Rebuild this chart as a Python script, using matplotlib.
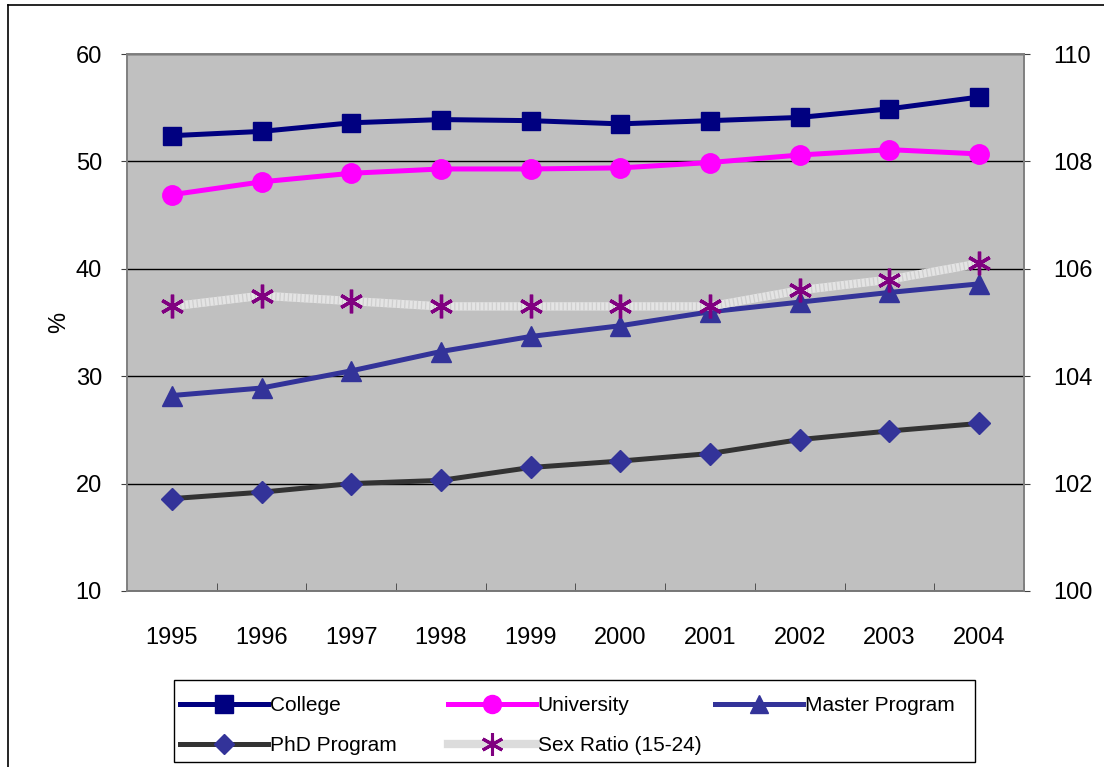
import numpy as np
import matplotlib
matplotlib.use('Agg')
import matplotlib.pyplot as plt
from matplotlib.lines import Line2D
from matplotlib.patches import Rectangle

plt.rcParams['font.family'] = ['Liberation Sans', 'DejaVu Sans']

years = ['1995', '1996', '1997', '1998', '1999', '2000', '2001', '2002', '2003', '2004']
college = [52.4, 52.8, 53.6, 53.9, 53.8, 53.5, 53.8, 54.1, 54.9, 56.0]
university = [46.9, 48.1, 48.9, 49.3, 49.3, 49.4, 49.9, 50.6, 51.1, 50.7]
master = [28.2, 28.9, 30.5, 32.3, 33.7, 34.7, 36.0, 36.9, 37.8, 38.6]
phd = [18.6, 19.2, 20.0, 20.3, 21.5, 22.1, 22.8, 24.1, 24.9, 25.6]
sex_ratio = [105.3, 105.5, 105.4, 105.3, 105.3, 105.3, 105.3, 105.6, 105.8, 106.1]

W, H = 1104, 767
fig = plt.figure(figsize=(W / 100, H / 100), dpi=100)
ax = fig.add_axes([0.115, 0.2295, 0.8125, 0.700])
ax2 = ax.twinx()

x = np.arange(len(years))
asterisk = (6, 2, 0)

ax.set_facecolor('#C0C0C0')
ax.set_xlim(-0.5, 9.5)
ax.set_ylim(10, 60)
ax.set_yticks([10, 20, 30, 40, 50, 60])
ax.yaxis.grid(True, color='black', linewidth=1)
ax.set_axisbelow(True)

ax.plot(x, college, color='#000080', lw=3.6, marker='s', ms=13, mfc='#000080', mec='#000080', zorder=5)
ax.plot(x, university, color='#FF00FF', lw=3.6, marker='o', ms=14, mfc='#FF00FF', mec='#FF00FF', zorder=5)
ax.plot(x, master, color='#333399', lw=3.6, marker='^', ms=14, mfc='#333399', mec='#333399', zorder=5)
ax.plot(x, phd, color='#333333', lw=3.6, marker='D', ms=11, mfc='#333399', mec='#333399', zorder=5)

ax2.set_ylim(100, 110)
ax2.set_yticks([100, 102, 104, 106, 108, 110])
ax2.plot(x, sex_ratio, color='#E4E4E4', lw=6, solid_capstyle='butt', zorder=3)
ax2.plot(x, sex_ratio, color='#CFCFCF', lw=6, ls=(0, (0.15, 0.35)), zorder=3)
ax2.plot(x, sex_ratio, ls='none', marker=asterisk, ms=17, mew=2.4, mec='#800080', zorder=4)

ax.set_xticks(x)
ax.set_xticklabels(years)
ax.set_xticks(np.arange(-0.5, 10, 1), minor=True)
ax.tick_params(axis='x', which='major', length=0, labelsize=17, pad=26)
ax.tick_params(axis='x', which='minor', direction='in', length=6, color='#404040')
ax.tick_params(axis='y', length=4, labelsize=17, pad=14, color='#404040')
ax2.tick_params(axis='y', length=4, labelsize=17, pad=17, color='#404040')
ax.set_ylabel('%', fontsize=17, labelpad=4)

for a in (ax, ax2):
    for s in a.spines.values():
        s.set_color('#808080')
        s.set_linewidth(1.2)
ax.spines['bottom'].set_color('#404040')

# legend: Excel style, three equal columns inside one box
h_col = Line2D([], [], color='#000080', lw=3.6, marker='s', ms=13, mfc='#000080', mec='#000080')
h_uni = Line2D([], [], color='#FF00FF', lw=3.6, marker='o', ms=13, mfc='#FF00FF', mec='#FF00FF')
h_mas = Line2D([], [], color='#333399', lw=3.6, marker='^', ms=13, mfc='#333399', mec='#333399')
h_phd = Line2D([], [], color='#333333', lw=3.6, marker='D', ms=10, mfc='#333399', mec='#333399')
h_sex = Line2D([], [], color='#DCDCDC', lw=6, marker=asterisk, ms=16, mew=2.2, mec='#800080')

columns = [([h_col, h_phd], ['College', 'PhD Program']),
           ([h_uni, h_sex], ['University', 'Sex Ratio (15-24)']),
           ([h_mas], ['Master Program'])]
col_x = [180, 448, 715]
for (hs, labs), cx in zip(columns, col_x):
    fig.legend(hs, labs, loc='upper left', bbox_to_anchor=(cx / W, 1 - 696 / H),
               fontsize=15, handlelength=4.2, handletextpad=0.1, labelspacing=1.0,
               frameon=False, borderpad=0, borderaxespad=0)

fig.add_artist(Rectangle((174 / W, 1 - 762 / H), 801 / W, 82 / H, transform=fig.transFigure,
                         fill=False, edgecolor='black', lw=1))

# outer frame of the chart
fig.add_artist(Line2D([8 / W, 1], [1 - 5 / H, 1 - 5 / H], color='black', lw=1.2))
fig.add_artist(Line2D([8 / W, 8 / W], [0, 1 - 5 / H], color='black', lw=1.2))

fig.savefig('out.png', dpi=100)
